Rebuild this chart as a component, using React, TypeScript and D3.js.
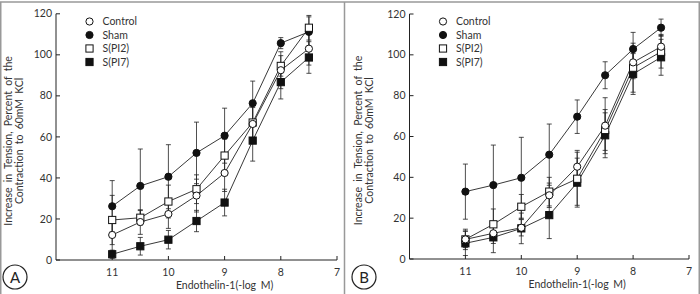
import React, { useRef, useEffect } from "react";
import * as d3 from "d3";

// doses, -log M
const doses = [11, 10.5, 10, 9.5, 9, 8.5, 8, 7.5];
const xTicks = [11, 10, 9, 8, 7];
const yTicks = [0, 20, 40, 60, 80, 100, 120];
const groups = ["Control", "Sham", "S(PI2)", "S(PI7)"];

// panel A
const controlA = [12.2, 18.5, 22.4, 31.4, 42.4, 66.3, 92.5, 103];
const shamA = [26.2, 36.1, 40.6, 52.2, 60.6, 76.4, 105.7, 111.2];
const pi2A = [19.5, 20.6, 28.5, 34.5, 50.9, 67, 94.6, 113.2];
const pi7A = [2.8, 6.7, 9.9, 19, 28, 58.2, 86.7, 98.7];
const controlErrA = [8, 6, 7, 8, 9, 8, 9, 8];
const shamErrA = [12.5, 18, 15.6, 15, 13.4, 10.8, 2.7, 7.3];
const pi2ErrA = [12, 3.5, 8, 7, 8, 9, 5, 6];
const pi7ErrA = [2, 4.3, 4.5, 5.2, 6.5, 10, 8.2, 7.7];

// panel B
const controlB = [9.6, 12.6, 15.3, 31.2, 45.2, 65.3, 96.3, 104];
const shamB = [33, 36.2, 39.8, 51.1, 69.7, 90, 102.8, 113.3];
const pi2B = [9.6, 17, 25.6, 33, 39.3, 63.2, 93.7, 101.5];
const pi7B = [7.7, 10.6, 15, 21.5, 37.4, 60.6, 90.6, 98.8];
const controlErrB = [4, 5, 4, 6, 8, 13.7, 8, 6];
const shamErrB = [13.5, 19.6, 19.8, 15, 8.2, 6.6, 8.2, 4.2];
const pi2ErrB = [5, 7.5, 6, 7, 13, 10, 12, 8];
const pi7ErrB = [6, 7.5, 7.5, 11.5, 12, 11, 10, 8.8];

const FONT = "Lato, 'Open Sans', sans-serif";
const INK = "#222";
const TXT = "#333";

function drawPanel(svg, opt) {
  const { x0, x1, yTop, yBottom, means, errs, letter, letterX, legendX, labelX } = opt;
  const x = d3.scaleLinear().domain([12, 7]).range([x0, x1]);
  const y = d3.scaleLinear().domain([0, 120]).range([yBottom, yTop]);
  const g = svg.append("g");

  // axes
  g.append("line").attr("x1", x0).attr("x2", x0).attr("y1", y(120)).attr("y2", y(0))
    .attr("stroke", INK).attr("stroke-width", 1);
  g.append("line").attr("x1", x0).attr("x2", x(7)).attr("y1", y(0)).attr("y2", y(0))
    .attr("stroke", INK).attr("stroke-width", 1);

  yTicks.forEach((t) => {
    g.append("line").attr("x1", x0).attr("x2", x0 + 4).attr("y1", y(t)).attr("y2", y(t))
      .attr("stroke", INK);
    g.append("text").attr("x", x0 - 4).attr("y", y(t) + 3.6).attr("text-anchor", "end")
      .attr("font-size", 10.5).attr("font-family", FONT).attr("fill", TXT).text(t);
  });
  xTicks.forEach((t) => {
    g.append("line").attr("x1", x(t)).attr("x2", x(t)).attr("y1", y(0)).attr("y2", y(0) - 4)
      .attr("stroke", INK);
    g.append("text").attr("x", x(t)).attr("y", y(0) + 15.5).attr("text-anchor", "middle")
      .attr("font-size", 10.5).attr("font-family", FONT).attr("fill", TXT).text(t);
  });

  g.append("text").attr("x", x(9)).attr("y", y(0) + 29).attr("text-anchor", "middle")
    .attr("font-size", 10.5).attr("font-family", FONT).attr("fill", TXT)
    .attr("word-spacing", 2).text("Endothelin-1(-log M)");

  const yMid = (y(0) + y(120)) / 2 + 4;
  ["Increase in Tension, Percent of the", "Contraction to 60mM KCl"].forEach((s, i) => {
    g.append("text")
      .attr("transform", `translate(${labelX + i * 11},${yMid}) rotate(-90)`)
      .attr("text-anchor", "middle").attr("font-size", 10.5).attr("font-family", FONT)
      .attr("fill", TXT).attr("word-spacing", 2.5).text(s);
  });

  const line = d3.line().x((d) => x(d[0])).y((d) => y(d[1]));

  // lines
  means.forEach((m) => {
    g.append("path").attr("d", line(doses.map((d, i) => [d, m[i]])))
      .attr("fill", "none").attr("stroke", INK).attr("stroke-width", 0.9);
  });

  // error bars
  means.forEach((m, k) => {
    doses.forEach((d, i) => {
      const e = errs[k][i];
      const cx = x(d);
      const lo = y(Math.max(0, m[i] - e));
      const hi = y(m[i] + e);
      g.append("line").attr("x1", cx).attr("x2", cx).attr("y1", lo).attr("y2", hi)
        .attr("stroke", INK).attr("stroke-width", 0.8);
      [lo, hi].forEach((yy) => {
        g.append("line").attr("x1", cx - 2.5).attr("x2", cx + 2.5).attr("y1", yy).attr("y2", yy)
          .attr("stroke", INK).attr("stroke-width", 0.8);
      });
    });
  });

  const marker = (sel, k, cx, cy) => {
    const filled = k === 1 || k === 3;
    if (k < 2) {
      sel.append("circle").attr("cx", cx).attr("cy", cy).attr("r", 3.6)
        .attr("fill", filled ? "#111" : "#fff").attr("stroke", "#111").attr("stroke-width", 1);
    } else {
      sel.append("rect").attr("x", cx - 3.6).attr("y", cy - 3.6).attr("width", 7.2).attr("height", 7.2)
        .attr("fill", filled ? "#111" : "#fff").attr("stroke", "#111").attr("stroke-width", 1);
    }
  };

  // markers on top
  [1, 3, 2, 0].forEach((k) => {
    doses.forEach((d, i) => marker(g, k, x(d), y(means[k][i])));
  });

  // legend
  const rowY = [21.5, 35, 48.5, 62];
  groups.forEach((name, k) => {
    marker(g, k, legendX, rowY[k]);
    g.append("text").attr("x", legendX + 13).attr("y", rowY[k] + 3.8)
      .attr("font-size", 10.5).attr("font-family", FONT).attr("fill", TXT).text(name);
  });

  // panel letter
  g.append("circle").attr("cx", letterX).attr("cy", 277).attr("r", 12)
    .attr("fill", "none").attr("stroke", INK).attr("stroke-width", 1.2);
  g.append("text").attr("x", letterX).attr("y", 282.5).attr("text-anchor", "middle")
    .attr("font-size", 15).attr("font-family", FONT).attr("fill", INK).text(letter);
}

export default function App() {
  const ref = useRef(null);

  useEffect(() => {
    const svg = d3.select(ref.current);
    svg.selectAll("*").remove();

    // frame: top, sides and divider (no bottom edge)
    const frame = [
      [0, 2, 700, 2],
      [0.75, 2, 0.75, 294],
      [699.25, 2, 699.25, 294],
      [344.5, 2, 344.5, 294],
    ];
    frame.forEach(([a, b, c, d]) => {
      svg.append("line").attr("x1", a).attr("y1", b).attr("x2", c).attr("y2", d)
        .attr("stroke", "#999").attr("stroke-width", 1.5);
    });

    drawPanel(svg, {
      x0: 56, x1: 337, yTop: 13.8, yBottom: 260,
      means: [controlA, shamA, pi2A, pi7A],
      errs: [controlErrA, shamErrA, pi2ErrA, pi7ErrA],
      letter: "A", letterX: 15, legendX: 89.5, labelX: 12,
    });
    drawPanel(svg, {
      x0: 409.5, x1: 689, yTop: 14, yBottom: 259,
      means: [controlB, shamB, pi2B, pi7B],
      errs: [controlErrB, shamErrB, pi2ErrB, pi7ErrB],
      letter: "B", letterX: 364, legendX: 443, labelX: 361.5,
    });
  }, []);

  return (
    <svg ref={ref} width={700} height={294}
      style={{ position: "absolute", left: 0, top: 0, background: "#fff" }} />
  );
}
